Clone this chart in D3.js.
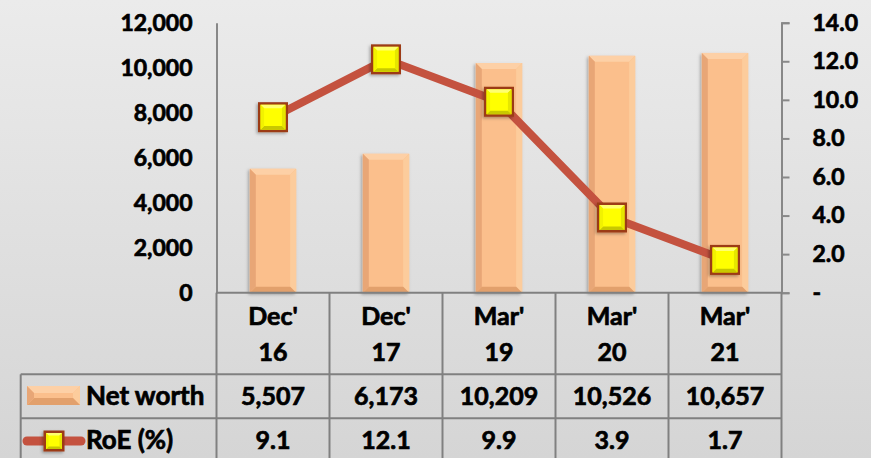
<!DOCTYPE html>
<html>
<head>
<meta charset="utf-8">
<script src="https://cdn.jsdelivr.net/npm/d3@7"></script>
<style>
  html, body { margin: 0; padding: 0; overflow: hidden; }
  text { font-family: Lato, "Open Sans", sans-serif; font-weight: bold; fill: #000; stroke: #000; stroke-width: 0.7px; }
</style>
</head>
<body>
<svg id="chart" width="871" height="458"></svg>
<script>
// chart values
var periods = [ [ "Dec'", "16" ], [ "Dec'", "17" ], [ "Mar'", "19" ], [ "Mar'", "20" ], [ "Mar'", "21" ] ];
var netWorth = [ 5507, 6173, 10209, 10526, 10657 ];
var roe = [ 9.1, 12.1, 9.9, 3.9, 1.7 ];
var leftTicks = [ 0, 2000, 4000, 6000, 8000, 10000, 12000 ];
var rightTicks = [ 0, 2, 4, 6, 8, 10, 12, 14 ];
var seriesNames = [ "Net worth", "RoE (%)" ];

var W = 871, H = 458;
var svg = d3.select( "#chart" );
var keys = periods.map( function ( p ) { return p.join( " " ); } );

// background gradient
var defs = svg.append( "defs" );
var bg = defs.append( "linearGradient" ).attr( "id", "bg" ).attr( "x1", 0 ).attr( "y1", 0 ).attr( "x2", 0 ).attr( "y2", 1 );
bg.append( "stop" ).attr( "offset", "0%" ).attr( "stop-color", "#ebebeb" );
bg.append( "stop" ).attr( "offset", "100%" ).attr( "stop-color", "#d5d5d5" );
var sh = defs.append( "filter" ).attr( "id", "shadow" ).attr( "x", "-20%" ).attr( "y", "-20%" ).attr( "width", "150%" ).attr( "height", "150%" );
sh.append( "feDropShadow" ).attr( "dx", -1.5 ).attr( "dy", 1.5 ).attr( "stdDeviation", 1.5 ).attr( "flood-color", "#000" ).attr( "flood-opacity", 0.3 );

svg.append( "rect" ).attr( "width", W ).attr( "height", H ).attr( "fill", "url(#bg)" );

// scales
var plotLeft = 216.5, plotRight = 781.5, plotTop = 22.7, plotBottom = 292.7;
var x = d3.scaleBand().domain( keys ).range( [ plotLeft, plotRight ] );
var yL = d3.scaleLinear().domain( [ 0, 12000 ] ).range( [ plotBottom, plotTop ] );
var yR = d3.scaleLinear().domain( [ 0, 14 ] ).range( [ plotBottom, plotTop ] );
var barW = x.bandwidth() * 0.41;

// bevelled box: colours [face, top, right, bottom, left]
function bevel( g, bx, by, bw, bh, b, c ) {
  var x0 = bx, y0 = by, x1 = bx + bw, y1 = by + bh;
  var sides = [
    [ [ x0, y0 ], [ x1, y0 ], [ x1 - b, y0 + b ], [ x0 + b, y0 + b ] ],
    [ [ x1, y0 ], [ x1, y1 ], [ x1 - b, y1 - b ], [ x1 - b, y0 + b ] ],
    [ [ x1, y1 ], [ x0, y1 ], [ x0 + b, y1 - b ], [ x1 - b, y1 - b ] ],
    [ [ x0, y1 ], [ x0, y0 ], [ x0 + b, y0 + b ], [ x0 + b, y1 - b ] ]
  ];
  g.append( "rect" ).attr( "x", x0 ).attr( "y", y0 ).attr( "width", bw ).attr( "height", bh ).attr( "fill", c[ 0 ] );
  sides.forEach( function ( s, i ) {
    g.append( "polygon" ).attr( "points", s.map( function ( p ) { return p.join( "," ); } ).join( " " ) ).attr( "fill", c[ i + 1 ] );
  } );
}
var barColors = [ "#fbbf8c", "#fdd0a6", "#fccc9c", "#e2a06c", "#e8a676" ];
var markColors = [ "#ffff00", "#ffff70", "#e6e600", "#c8c800", "#f2f200" ];

// bars
var bars = svg.append( "g" );
netWorth.forEach( function ( v, i ) {
  var cx = x( keys[ i ] ) + x.bandwidth() / 2;
  var g = bars.append( "g" ).attr( "filter", "url(#shadow)" );
  bevel( g, cx - barW / 2, yL( v ), barW, yL( 0 ) - yL( v ), 6, barColors );
} );

// axes
var axL = svg.append( "g" ).attr( "transform", "translate(" + plotLeft + ",0)" )
  .call( d3.axisLeft( yL ).tickValues( leftTicks ).tickSize( 0 ).tickPadding( 24 ).tickFormat( d3.format( "," ) ) );
var axR = svg.append( "g" ).attr( "transform", "translate(" + plotRight + ",0)" )
  .call( d3.axisRight( yR ).tickValues( rightTicks ).tickSize( 8 ).tickPadding( 23 )
    .tickFormat( function ( d ) { return d === 0 ? "-" : d.toFixed( 1 ); } ) );
[ axL, axR ].forEach( function ( a ) {
  a.select( ".domain" ).attr( "stroke", "#888" ).attr( "stroke-width", 2 );
  a.selectAll( ".tick line" ).attr( "stroke", "#888" ).attr( "stroke-width", 2 );
  a.selectAll( "text" ).attr( "font-size", 23 ).attr( "font-family", "Lato, sans-serif" ).attr( "font-weight", "bold" ).attr( "fill", "#000" );
} );

// RoE line + markers
var line = d3.line()
  .x( function ( d, i ) { return x( keys[ i ] ) + x.bandwidth() / 2; } )
  .y( function ( d ) { return yR( d ); } );
svg.append( "path" ).datum( roe ).attr( "d", line ).attr( "fill", "none" )
  .attr( "stroke", "#c4523f" ).attr( "stroke-width", 8 );

function marker( g, cx, cy, s ) {
  var mg = g.append( "g" ).attr( "filter", "url(#shadow)" );
  mg.append( "rect" ).attr( "x", cx - s / 2 ).attr( "y", cy - s / 2 ).attr( "width", s ).attr( "height", s ).attr( "fill", "#9c3a16" );
  bevel( mg, cx - s / 2 + 2.5, cy - s / 2 + 2.5, s - 5, s - 5, s * 0.12, markColors );
}
var marks = svg.append( "g" );
roe.forEach( function ( v, i ) {
  marker( marks, x( keys[ i ] ) + x.bandwidth() / 2, yR( v ), 30 );
} );

// data table
var rowTop = [ plotBottom, 374.3, 418.3 ];
var grid = svg.append( "g" ).attr( "stroke", "#808080" ).attr( "stroke-width", 2 );
x.domain().concat( [ null ] ).forEach( function ( k ) {
  var gx = k === null ? plotRight : x( k );
  grid.append( "line" ).attr( "x1", gx ).attr( "x2", gx ).attr( "y1", plotBottom ).attr( "y2", H );
} );
grid.append( "line" ).attr( "x1", plotLeft ).attr( "x2", plotRight ).attr( "y1", plotBottom ).attr( "y2", plotBottom );
grid.append( "line" ).attr( "x1", 20.7 ).attr( "x2", 20.7 ).attr( "y1", rowTop[ 1 ] ).attr( "y2", H );
[ rowTop[ 1 ], rowTop[ 2 ] ].forEach( function ( gy ) {
  grid.append( "line" ).attr( "x1", 20.7 ).attr( "x2", plotRight ).attr( "y1", gy ).attr( "y2", gy );
} );

var tbl = svg.append( "g" ).attr( "font-size", 25 ).attr( "text-anchor", "middle" );
periods.forEach( function ( p, i ) {
  var cx = x( keys[ i ] ) + x.bandwidth() / 2;
  tbl.append( "text" ).attr( "x", cx ).attr( "y", 316 ).attr( "dy", "0.36em" ).text( p[ 0 ] );
  tbl.append( "text" ).attr( "x", cx ).attr( "y", 351.5 ).attr( "dy", "0.36em" ).text( p[ 1 ] );
  tbl.append( "text" ).attr( "x", cx ).attr( "y", 396 ).attr( "dy", "0.36em" ).text( d3.format( "," )( netWorth[ i ] ) );
  tbl.append( "text" ).attr( "x", cx ).attr( "y", 440 ).attr( "dy", "0.36em" ).text( roe[ i ].toFixed( 1 ) );
} );

// legend keys in the table
var lg = svg.append( "g" );
bevel( lg, 27, 386, 53, 19, 7, barColors );
lg.append( "line" ).attr( "x1", 27 ).attr( "x2", 81 ).attr( "y1", 441 ).attr( "y2", 441 )
  .attr( "stroke", "#c4523f" ).attr( "stroke-width", 9 ).attr( "stroke-linecap", "round" );
marker( lg, 54, 441, 21 );
lg.append( "text" ).attr( "x", 86 ).attr( "y", 396 ).attr( "dy", "0.36em" ).attr( "font-size", 26 ).text( seriesNames[ 0 ] );
lg.append( "text" ).attr( "x", 86 ).attr( "y", 440 ).attr( "dy", "0.36em" ).attr( "font-size", 26 ).text( seriesNames[ 1 ] );
</script>
</body>
</html>
